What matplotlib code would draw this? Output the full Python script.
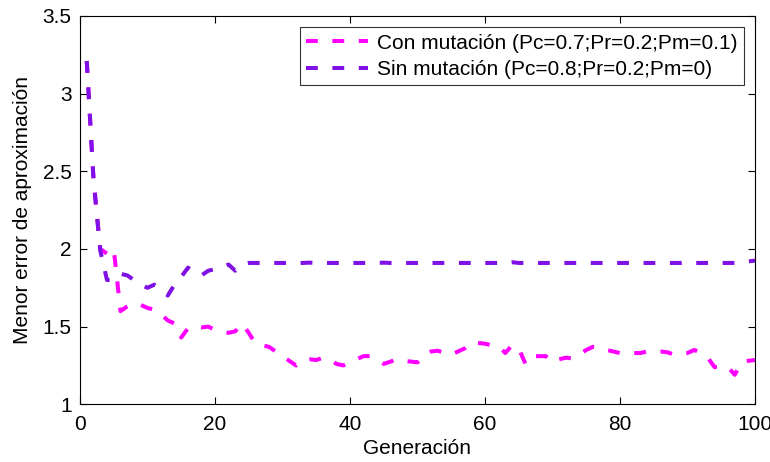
import numpy as np
import matplotlib
matplotlib.use('Agg')
import matplotlib.pyplot as plt

plt.rcParams['font.family'] = ['Liberation Sans', 'DejaVu Sans']
plt.rcParams['lines.scale_dashes'] = False

gen = np.arange(1, 101)

con_mut = [3.21, 2.45, 2.00, 1.97, 2.00, 1.60, 1.63, 1.65, 1.64, 1.62,
           1.61, 1.58, 1.54, 1.52, 1.43, 1.49, 1.50, 1.495, 1.50, 1.48,
           1.47, 1.46, 1.47, 1.52, 1.46, 1.39, 1.38, 1.37, 1.34, 1.31,
           1.28, 1.25, 1.285, 1.29, 1.285, 1.30, 1.29, 1.26, 1.25, 1.27,
           1.29, 1.31, 1.31, 1.285, 1.26, 1.275, 1.29, 1.28, 1.275, 1.27,
           1.32, 1.34, 1.345, 1.33, 1.32, 1.34, 1.36, 1.40, 1.395, 1.39,
           1.38, 1.375, 1.33, 1.38, 1.36, 1.26, 1.31, 1.31, 1.31, 1.27,
           1.29, 1.30, 1.295, 1.32, 1.35, 1.37, 1.365, 1.35, 1.34, 1.33,
           1.33, 1.33, 1.33, 1.34, 1.34, 1.34, 1.335, 1.32, 1.33, 1.33,
           1.35, 1.33, 1.30, 1.24, 1.24, 1.24, 1.19, 1.27, 1.28, 1.285]

sin_mut = [3.21, 2.45, 1.99, 1.80, 1.80, 1.84, 1.83, 1.80, 1.77, 1.75,
           1.77, 1.74, 1.70, 1.77, 1.82, 1.88, 1.85, 1.83, 1.86, 1.87,
           1.88, 1.90, 1.86, 1.90, 1.91, 1.91, 1.91, 1.91, 1.91, 1.91,
           1.91, 1.91, 1.91, 1.912, 1.91, 1.91, 1.91, 1.91, 1.91, 1.91,
           1.91, 1.91, 1.91, 1.91, 1.912, 1.91, 1.91, 1.91, 1.91, 1.91,
           1.91, 1.91, 1.91, 1.91, 1.91, 1.91, 1.91, 1.91, 1.91, 1.91,
           1.91, 1.91, 1.91, 1.915, 1.91, 1.91, 1.91, 1.91, 1.91, 1.91,
           1.91, 1.91, 1.91, 1.91, 1.91, 1.91, 1.91, 1.91, 1.91, 1.91,
           1.91, 1.91, 1.91, 1.91, 1.91, 1.91, 1.91, 1.91, 1.91, 1.915,
           1.91, 1.91, 1.91, 1.91, 1.91, 1.91, 1.91, 1.915, 1.92, 1.925]

labels = ['Con mutación (Pc=0.7;Pr=0.2;Pm=0.1)',
          'Sin mutación (Pc=0.8;Pr=0.2;Pm=0)']

fig = plt.figure(figsize=(7.7, 4.62), dpi=100)
ax = fig.add_axes([0.1039, 0.1249, 0.8766, 0.8405])

ax.plot(gen, con_mut, color='#ff00ff', lw=2.9, dashes=(8.5, 10.5), label=labels[0])
ax.plot(gen, sin_mut, color='#7f10e6', lw=2.9, dashes=(8.5, 10.5), label=labels[1])

ax.set_xlim(0, 100)
ax.set_ylim(1, 3.5)
ax.set_xticks(np.arange(0, 101, 20))
ax.set_yticks([1, 1.5, 2, 2.5, 3, 3.5])
ax.set_yticklabels(['1', '1.5', '2', '2.5', '3', '3.5'])
ax.tick_params(direction='in', top=True, right=True, length=5, labelsize=15,
               width=0.8)
ax.tick_params(axis='x', pad=8)
ax.tick_params(axis='y', pad=6)
for s in ax.spines.values():
    s.set_linewidth(0.8)

ax.set_xlabel('Generación', fontsize=15, labelpad=3)
ax.set_ylabel('Menor error de aproximación', fontsize=15, labelpad=8)

leg = ax.legend(loc='upper right', fontsize=15, frameon=True, fancybox=False,
                edgecolor='black', handlelength=3.0, borderaxespad=0.55,
                borderpad=0.3, labelspacing=0.35, handletextpad=0.4)
leg.get_frame().set_linewidth(0.8)

fig.savefig('out.png', dpi=100)
